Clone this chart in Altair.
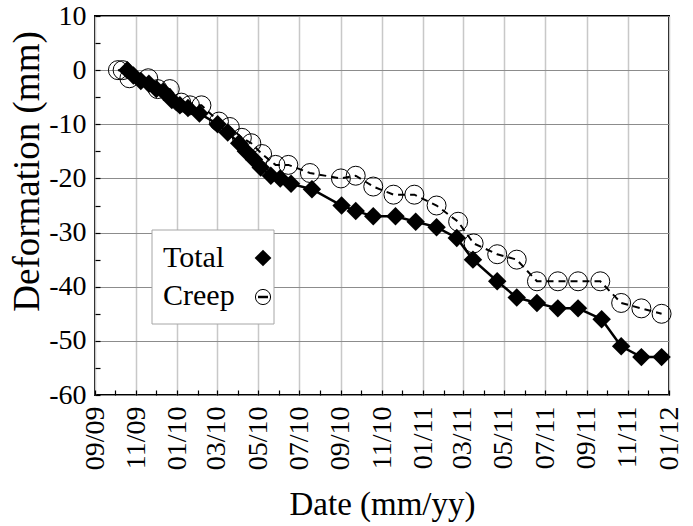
import altair as alt
import pandas as pd

# Total deformation readings
total_dates = [
    "2009-10-19", "2009-10-28", "2009-11-08", "2009-11-20", "2009-12-01",
    "2009-12-12", "2009-12-24", "2010-01-05", "2010-01-17", "2010-02-03",
    "2010-03-02", "2010-03-17", "2010-04-03", "2010-04-13", "2010-04-25",
    "2010-05-05", "2010-05-20", "2010-06-03", "2010-06-19", "2010-07-20",
    "2010-09-02", "2010-09-23", "2010-10-19", "2010-11-21", "2010-12-21",
    "2011-01-21", "2011-02-20", "2011-03-16", "2011-04-21", "2011-05-20",
    "2011-06-19", "2011-07-20", "2011-08-19", "2011-09-23", "2011-10-22",
    "2011-11-21", "2011-12-21",
]
total_values = [
    0, -1, -2, -2.5, -3.5,
    -4, -5.5, -6.5, -7, -8,
    -10, -11.5, -13.5, -15, -16.5,
    -18, -19.5, -20, -21, -22,
    -25, -26, -27, -27, -28,
    -29, -31, -35, -39, -42,
    -43, -44, -44, -46, -51,
    -53, -53,
]

# Creep deformation readings
creep_dates = [
    "2009-10-05", "2009-10-12", "2009-10-22", "2009-11-19", "2009-12-03",
    "2009-12-21", "2010-01-07", "2010-01-20", "2010-02-06", "2010-03-04",
    "2010-03-20", "2010-04-07", "2010-04-21", "2010-05-07", "2010-05-27",
    "2010-06-15", "2010-07-17", "2010-09-01", "2010-09-23", "2010-10-19",
    "2010-11-18", "2010-12-19", "2011-01-21", "2011-02-22", "2011-03-17",
    "2011-04-21", "2011-05-20", "2011-06-19", "2011-07-20", "2011-08-19",
    "2011-09-21", "2011-10-22", "2011-11-21", "2011-12-21",
]
creep_values = [
    0, 0, -1.5, -1.5, -3.5,
    -3.5, -6, -6.5, -6.5, -9.5,
    -10.5, -12.5, -13.5, -15.5, -17.5,
    -17.5, -19, -20, -19.5, -21.5,
    -23, -23, -25, -28, -32,
    -34, -35, -39, -39, -39,
    -39, -43, -44, -45,
]

y_ticks = list(range(-60, 11, 10))
y_minor = list(range(-60, 11, 5))
legend_labels = ["Total", "Creep"]

total_df = pd.DataFrame({"date": pd.to_datetime(total_dates), "value": total_values})
creep_df = pd.DataFrame({"date": pd.to_datetime(creep_dates), "value": creep_values})
one_row = pd.DataFrame({"k": [0]})

FONT = "Liberation Serif"
W, H = 574, 379
TOP = 16

x_scale = alt.Scale(
    domain=[alt.DateTime(year=2009, month=9, date=1), alt.DateTime(year=2012, month=1, date=1)],
    nice=False,
)
y_scale = alt.Scale(domain=[-60, 10], nice=False, zero=False)

main_x_axis = alt.Axis(
    title="Date (mm/yy)", format="%m/%y", tickCount={"interval": "month", "step": 2},
    labelAngle=270, labelAlign="right", labelBaseline="middle", labelPadding=11,
    labelFont=FONT, labelFontSize=28, labelColor="black", labelFlush=False,
    labelOverlap=False, labelBound=False,
    ticks=False, domain=False, grid=True, gridColor="#c8c8c8", gridWidth=1.5,
    titleFont=FONT, titleFontSize=33, titleFontWeight="normal", titleColor="black",
    titleX=W / 2, titleY=119, titleAlign="center", titleBaseline="alphabetic",
    orient="bottom",
)
main_y_axis = alt.Axis(
    title="Deformation (mm)", values=y_ticks, labelPadding=9,
    labelExpr="replace(datum.label, '\u2212', '-')",
    labelFont=FONT, labelFontSize=28, labelColor="black", labelFlush=False,
    labelOverlap=False, labelBound=False,
    ticks=False, domain=False, grid=True, gridColor="#8c8c8c", gridWidth=1,
    titleFont=FONT, titleFontSize=37, titleFontWeight="normal", titleColor="black",
    titleAngle=270, titleX=-68, titleY=155, titleAlign="center", titleBaseline="middle",
    orient="left",
)
# inward-facing tick marks
minor_x_axis = alt.Axis(
    title=None, labels=False, domain=False, grid=False, ticks=True,
    tickCount={"interval": "month", "step": 1}, tickSize=5, tickColor="black",
    tickWidth=1.2, offset=-5, orient="bottom",
)
minor_y_axis = alt.Axis(
    title=None, labels=False, domain=False, grid=False, ticks=True,
    values=y_minor, tickSize=5, tickColor="black", tickWidth=1.2, offset=-5,
    orient="left",
)

creep_line = alt.Chart(creep_df).mark_line(
    color="black", strokeWidth=2, strokeDash=[7, 5]
).encode(
    x=alt.X("date:T", scale=x_scale, axis=None),
    y=alt.Y("value:Q", scale=y_scale, axis=None),
)
creep_pts = alt.Chart(creep_df).mark_point(
    shape="circle", filled=False, color="black", strokeWidth=1, size=360, opacity=1
).encode(
    x=alt.X("date:T", scale=x_scale, axis=None),
    y=alt.Y("value:Q", scale=y_scale, axis=None),
)
total_line = alt.Chart(total_df).mark_line(color="black", strokeWidth=2.5).encode(
    x=alt.X("date:T", scale=x_scale, axis=main_x_axis),
    y=alt.Y("value:Q", scale=y_scale, axis=main_y_axis),
)
total_pts = alt.Chart(total_df).mark_point(
    shape="diamond", filled=True, color="black", size=340, opacity=1
).encode(
    x=alt.X("date:T", scale=x_scale, axis=minor_x_axis),
    y=alt.Y("value:Q", scale=y_scale, axis=minor_y_axis),
)

# legend box with labels on the left and symbols on the right
legend_box = alt.Chart(one_row).mark_rect(
    fill="white", stroke="#a6a6a6", strokeWidth=1
).encode(
    x=alt.value(57), x2=alt.value(179), y=alt.value(214), y2=alt.value(308)
)
legend_text_style = dict(align="left", baseline="alphabetic", font=FONT, fontSize=30, color="black")
legend_total_text = alt.Chart(one_row).mark_text(**legend_text_style).encode(
    x=alt.value(68), y=alt.value(251), text=alt.value(legend_labels[0])
)
legend_creep_text = alt.Chart(one_row).mark_text(**legend_text_style).encode(
    x=alt.value(68), y=alt.value(289), text=alt.value(legend_labels[1])
)
legend_total_sym = alt.Chart(one_row).mark_point(
    shape="diamond", filled=True, color="black", size=280, opacity=1
).encode(x=alt.value(168), y=alt.value(242))
legend_creep_sym = alt.Chart(one_row).mark_point(
    shape="circle", filled=False, color="black", strokeWidth=1, size=230, opacity=1
).encode(x=alt.value(168), y=alt.value(281))
legend_creep_dash = alt.Chart(one_row).mark_rule(color="black", strokeWidth=2.5).encode(
    x=alt.value(163), x2=alt.value(173), y=alt.value(281)
)

chart = alt.layer(
    total_line, total_pts, creep_line, creep_pts,
    legend_box, legend_total_text, legend_creep_text,
    legend_total_sym, legend_creep_sym, legend_creep_dash,
).resolve_axis(
    x="independent", y="independent"
).properties(
    width=W, height=H,
    padding={"left": 95, "top": TOP, "right": 24, "bottom": 131},
    autosize=alt.AutoSizeParams(type="none"),
    background="white",
).configure_view(
    stroke="black", strokeWidth=2
)

chart.save("out.html", embed_options={"renderer": "svg", "actions": False})
